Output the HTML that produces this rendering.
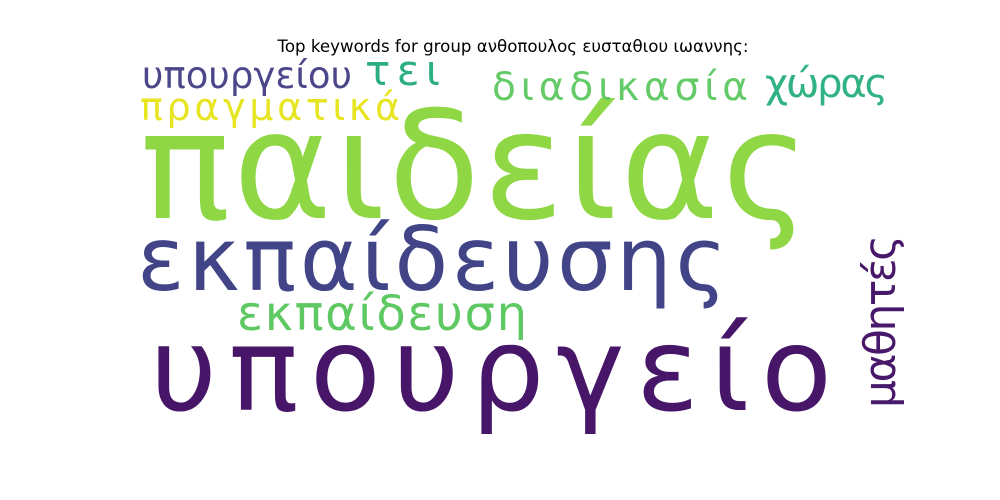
<!DOCTYPE html>
<html>
<head>
<meta charset="utf-8">
<style>
html,body{margin:0;padding:0;background:#fff;}
svg{display:block;}
text{font-family:"DejaVu Sans","Liberation Sans",sans-serif;}
</style>
</head>
<body>
<svg width="1000" height="500" viewBox="0 0 1000 500">
<rect x="0" y="0" width="1000" height="500" fill="#fff"/>
<text x="513" y="52" text-anchor="middle" font-size="16.5" fill="#000" textLength="471" lengthAdjust="spacingAndGlyphs">Top keywords for group ανθοπουλος ευσταθιου ιωαννης:</text>
<g id="words"></g>
</svg>
<script>
const words = ["παιδείας","υπουργείο","εκπαίδευσης","εκπαίδευση","μαθητές","υπουργείου","τει","διαδικασία","χώρας","πραγματικά"];
const weights = [1.0, 0.78, 0.6, 0.33, 0.3, 0.25, 0.28, 0.26, 0.27, 0.26];
const colors = ["#8fd744","#471669","#414487","#5ec962","#48186a","#433e85","#27ad81","#5ec962","#2ab07f","#e7e419"];
const layout = [
  {x:140,y:218,fs:150,len:670,rot:0},
  {x:150,y:410,fs:116,len:682,rot:0},
  {x:137,y:290,fs:88,len:590,rot:0},
  {x:237,y:330,fs:48,len:290,rot:0},
  {x:895,y:408,fs:44,len:173,rot:-90},
  {x:142,y:88,fs:37,len:210,rot:0},
  {x:365,y:85,fs:42,len:75,rot:0},
  {x:492,y:100,fs:39,len:256,rot:0},
  {x:765,y:97,fs:40,len:123,rot:0},
  {x:140,y:120,fs:38,len:260,rot:0}
];
const g = document.getElementById('words');
const ns = "http://www.w3.org/2000/svg";
words.forEach((w,i)=>{
  const L = layout[i];
  const t = document.createElementNS(ns,'text');
  
  
  t.setAttribute('font-size', L.fs);
  t.setAttribute('fill', colors[i]);
  t.setAttribute('textLength', L.len);
  t.setAttribute('lengthAdjust', 'spacing');
  t.setAttribute('transform', 'translate(' + L.x + ',' + L.y + ') rotate(' + L.rot + ')');
  t.setAttribute('x', 0);
  t.setAttribute('y', 0);
  t.setAttribute('opacity', Math.min(1, 0.7 + weights[i]));
  t.textContent = w;
  g.appendChild(t);
});
</script>
</body>
</html>
